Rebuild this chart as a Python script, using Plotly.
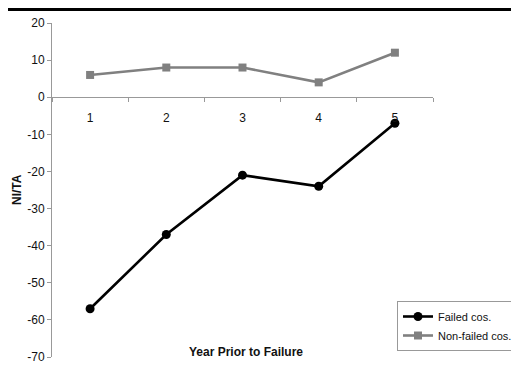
import plotly.graph_objects as go

years = ["1", "2", "3", "4", "5"]
failed = [-57, -37, -21, -24, -7]
nonfailed = [6, 8, 8, 4, 12]
y_min, y_max = -70, 20
y_ticks = [20, 10, 0, -10, -20, -30, -40, -50, -60, -70]
y_tick_text = ["20", "10", "0", "-10", "-20", "-30", "-40", "-50", "-60", "-70"]

OFF = 8  # page body margin
W, H = 519 - OFF, 372 - OFF
L, T = 52 - OFF, 23 - OFF
R, B = 519 - 433, 372 - 357
pw, ph = W - L - R, H - T - B

def px(x):
    return (x - OFF - L) / pw

def py(y):
    return (H - B - (y - OFF)) / ph

fig = go.Figure()
fig.add_trace(go.Scatter(x=years, y=failed, name="Failed cos.", mode="lines+markers",
                         line=dict(color="#000000", width=2.6),
                         marker=dict(symbol="circle", size=9, color="#000000")))
fig.add_trace(go.Scatter(x=years, y=nonfailed, name="Non-failed cos.", mode="lines+markers",
                         line=dict(color="#808080", width=2.6),
                         marker=dict(symbol="square", size=8, color="#808080")))

zero_pos = (0 - y_min) / (y_max - y_min)

fig.update_layout(
    template="none",
    width=W, height=H,
    margin=dict(l=L, r=R, t=T, b=B, autoexpand=False),
    paper_bgcolor="white", plot_bgcolor="white",
    font=dict(family="Liberation Sans, Arial, sans-serif", size=12, color="#111111"),
    xaxis=dict(type="category", range=[-0.5, len(years) - 0.5], tickson="boundaries",
               anchor="free", position=zero_pos,
               showline=True, linecolor="#999999", linewidth=1, ticks="outside",
               ticklen=4, tickcolor="#999999", showgrid=False, zeroline=False,
               automargin=False, ticklabelstandoff=9,
               tickfont=dict(size=12, color="#111111")),
    yaxis=dict(range=[y_min, y_max], tickvals=y_ticks, ticktext=y_tick_text,
               showline=True, linecolor="#999999", automargin=False,
               linewidth=1, ticks="outside", ticklen=4, tickcolor="#999999",
               showgrid=False, zeroline=False, tickfont=dict(size=12, color="#111111")),
    legend=dict(x=px(397), y=py(301), xanchor="left", yanchor="top",
                bgcolor="white", bordercolor="#999999", borderwidth=1,
                font=dict(size=11, color="#111111"), tracegroupgap=0, itemwidth=30),
    showlegend=True,
)

fig.add_annotation(text="<b>NI/TA</b>", textangle=-90, xref="paper", yref="paper",
                   x=px(17), y=0.5, xanchor="center", yanchor="middle",
                   showarrow=False, font=dict(size=12, color="#111111"))
fig.add_annotation(text="<b>Year Prior to Failure</b>", xref="paper", yref="paper",
                   x=px(246), y=py(352), xanchor="center", yanchor="middle",
                   showarrow=False, font=dict(size=12, color="#111111"))
fig.add_shape(type="line", xref="paper", yref="paper",
              x0=px(-10), x1=px(530), y0=py(OFF + 1.5), y1=py(OFF + 1.5),
              line=dict(color="#000000", width=3))

fig.write_html("out.html")
